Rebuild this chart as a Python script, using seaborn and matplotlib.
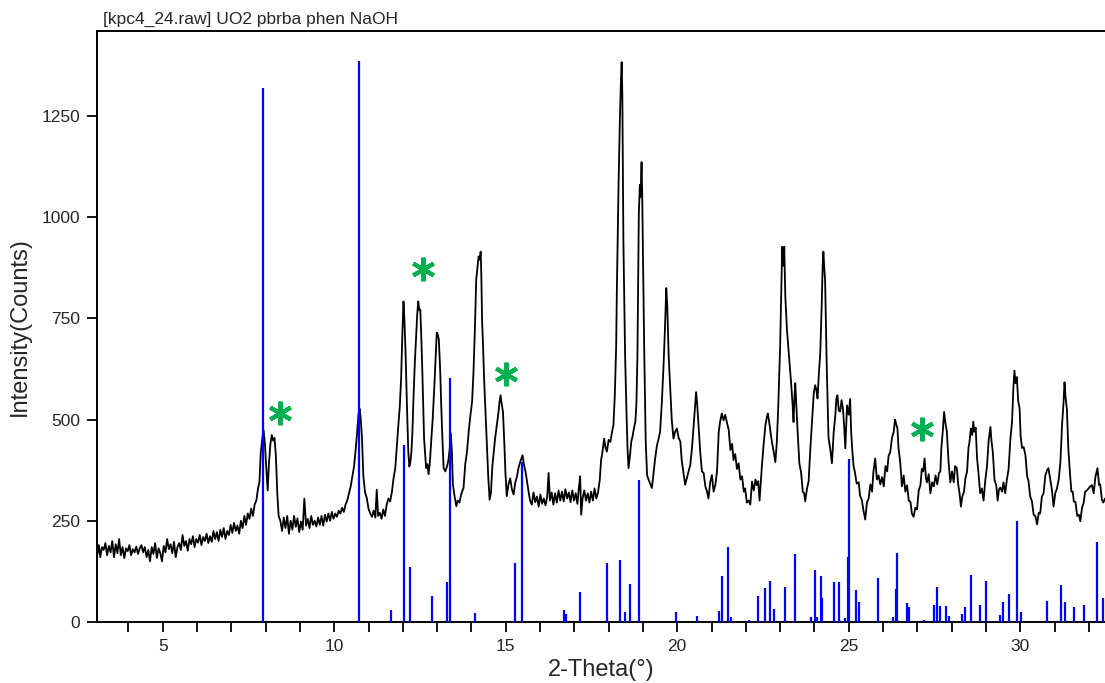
import numpy as np
import pandas as pd
import seaborn as sns
import matplotlib
matplotlib.use("Agg")
import matplotlib.pyplot as plt

scan = [
    (3.05, 195), (3.10, 168), (3.14, 190), (3.18, 160), (3.23, 185), (3.28, 178), (3.33, 195), (3.38, 165),
    (3.43, 188), (3.48, 172), (3.53, 200), (3.58, 160), (3.63, 192), (3.68, 170), (3.73, 205), (3.78, 165),
    (3.83, 185), (3.88, 158), (3.93, 182), (3.98, 175), (4.03, 190), (4.08, 165), (4.13, 180), (4.18, 172),
    (4.23, 186), (4.28, 168), (4.33, 182), (4.38, 190), (4.43, 172), (4.48, 185), (4.53, 160), (4.58, 178),
    (4.63, 150), (4.68, 185), (4.73, 168), (4.78, 195), (4.83, 158), (4.88, 182), (4.93, 170), (4.98, 150),
    (5.03, 188), (5.08, 172), (5.13, 205), (5.18, 180), (5.23, 192), (5.28, 170), (5.33, 198), (5.38, 160),
    (5.43, 185), (5.48, 195), (5.53, 178), (5.58, 215), (5.63, 188), (5.68, 200), (5.73, 176), (5.78, 205),
    (5.83, 192), (5.88, 212), (5.93, 185), (5.98, 205), (6.03, 196), (6.08, 215), (6.13, 190), (6.18, 210),
    (6.23, 200), (6.28, 218), (6.33, 195), (6.38, 212), (6.43, 198), (6.48, 225), (6.53, 205), (6.58, 222),
    (6.63, 200), (6.68, 228), (6.73, 210), (6.78, 232), (6.83, 205), (6.88, 225), (6.93, 215), (6.98, 240),
    (7.03, 220), (7.08, 245), (7.13, 225), (7.18, 238), (7.23, 218), (7.28, 250), (7.33, 232), (7.38, 262),
    (7.43, 240), (7.48, 268), (7.53, 255), (7.58, 280), (7.63, 262), (7.68, 290), (7.73, 300), (7.78, 330),
    (7.82, 345), (7.86, 420), (7.90, 450), (7.94, 474), (7.98, 440), (8.02, 380), (8.06, 325), (8.10, 395),
    (8.14, 440), (8.18, 462), (8.22, 448), (8.26, 455), (8.30, 410), (8.34, 320), (8.38, 262), (8.43, 250),
    (8.48, 225), (8.53, 258), (8.58, 232), (8.63, 262), (8.68, 218), (8.73, 250), (8.78, 228), (8.83, 262),
    (8.88, 235), (8.93, 256), (8.98, 222), (9.03, 248), (9.08, 228), (9.13, 305), (9.18, 238), (9.23, 255),
    (9.28, 232), (9.33, 262), (9.38, 240), (9.43, 250), (9.48, 236), (9.53, 258), (9.58, 240), (9.63, 262),
    (9.68, 238), (9.73, 265), (9.78, 248), (9.83, 268), (9.88, 250), (9.93, 272), (9.98, 255), (10.03, 268),
    (10.08, 260), (10.13, 275), (10.18, 268), (10.23, 282), (10.28, 272), (10.33, 290), (10.38, 300), (10.43, 318),
    (10.48, 335), (10.53, 360), (10.58, 385), (10.63, 430), (10.67, 470), (10.71, 515), (10.74, 527), (10.77, 505),
    (10.81, 455), (10.85, 360), (10.90, 320), (10.95, 306), (11.00, 280), (11.05, 268), (11.10, 260), (11.15, 275),
    (11.20, 258), (11.24, 327), (11.28, 262), (11.33, 270), (11.38, 255), (11.43, 278), (11.48, 262), (11.53, 290),
    (11.58, 305), (11.63, 298), (11.68, 320), (11.73, 355), (11.78, 380), (11.83, 440), (11.87, 486), (11.91, 530),
    (11.95, 600), (11.99, 720), (12.02, 792), (12.05, 740), (12.08, 666), (12.12, 535), (12.16, 420), (12.19, 384),
    (12.22, 395), (12.25, 420), (12.28, 470), (12.31, 551), (12.35, 640), (12.39, 707), (12.42, 760), (12.45, 792),
    (12.48, 770), (12.51, 772), (12.54, 700), (12.57, 617), (12.62, 453), (12.68, 380), (12.72, 390), (12.75, 365),
    (12.79, 395), (12.82, 437), (12.87, 500), (12.92, 584), (12.96, 660), (12.99, 715), (13.02, 710), (13.05, 698),
    (13.09, 620), (13.12, 535), (13.16, 440), (13.19, 380), (13.24, 372), (13.29, 385), (13.33, 400), (13.37, 430),
    (13.40, 466), (13.43, 420), (13.46, 339), (13.51, 310), (13.56, 286), (13.60, 300), (13.65, 295), (13.70, 315),
    (13.74, 325), (13.77, 331), (13.82, 390), (13.87, 420), (13.92, 470), (13.97, 510), (14.02, 545), (14.06, 617),
    (14.10, 720), (14.14, 846), (14.18, 880), (14.21, 903), (14.24, 895), (14.27, 915), (14.29, 850), (14.31, 748),
    (14.34, 680), (14.37, 600), (14.41, 520), (14.45, 437), (14.49, 360), (14.53, 302), (14.57, 320), (14.61, 385),
    (14.65, 420), (14.69, 453), (14.74, 485), (14.79, 519), (14.82, 545), (14.85, 560), (14.88, 540), (14.92, 519),
    (14.96, 440), (14.99, 372), (15.03, 311), (15.08, 340), (15.13, 355), (15.18, 328), (15.23, 315), (15.28, 345),
    (15.33, 360), (15.37, 380), (15.42, 395), (15.46, 405), (15.49, 412), (15.53, 390), (15.58, 370), (15.62, 347),
    (15.67, 320), (15.71, 300), (15.76, 290), (15.81, 320), (15.86, 296), (15.91, 310), (15.96, 285), (16.01, 315),
    (16.06, 292), (16.11, 305), (16.16, 288), (16.21, 310), (16.25, 368), (16.29, 300), (16.34, 320), (16.39, 290),
    (16.44, 318), (16.49, 295), (16.54, 325), (16.59, 300), (16.64, 322), (16.69, 298), (16.74, 328), (16.79, 305),
    (16.84, 320), (16.89, 296), (16.94, 325), (16.99, 300), (17.04, 318), (17.09, 292), (17.13, 330), (17.17, 360),
    (17.20, 265), (17.24, 305), (17.29, 325), (17.34, 300), (17.39, 318), (17.44, 295), (17.49, 322), (17.54, 300),
    (17.59, 330), (17.64, 305), (17.69, 320), (17.74, 350), (17.78, 400), (17.82, 420), (17.87, 453), (17.91, 430),
    (17.95, 421), (18.00, 450), (18.05, 445), (18.10, 470), (18.14, 486), (18.18, 560), (18.22, 682), (18.24, 821),
    (18.29, 1083), (18.33, 1250), (18.36, 1340), (18.38, 1383), (18.40, 1300), (18.43, 944), (18.46, 780), (18.48, 658),
    (18.52, 520), (18.55, 430), (18.58, 380), (18.62, 410), (18.66, 445), (18.70, 460), (18.74, 480), (18.78, 495),
    (18.81, 540), (18.84, 658), (18.88, 1009), (18.91, 1080), (18.93, 1050), (18.96, 1136), (18.98, 1050), (19.00, 911),
    (19.04, 658), (19.08, 450), (19.12, 363), (19.17, 350), (19.22, 340), (19.26, 331), (19.30, 360), (19.35, 400),
    (19.41, 437), (19.45, 450), (19.50, 470), (19.55, 540), (19.60, 633), (19.64, 720), (19.68, 825), (19.71, 780),
    (19.75, 658), (19.80, 568), (19.84, 500), (19.89, 453), (19.94, 470), (19.99, 478), (20.04, 455), (20.09, 446),
    (20.13, 400), (20.18, 370), (20.23, 339), (20.28, 355), (20.33, 370), (20.38, 388), (20.43, 430), (20.48, 486),
    (20.52, 530), (20.55, 568), (20.58, 540), (20.62, 486), (20.67, 420), (20.72, 372), (20.77, 368), (20.82, 335),
    (20.87, 322), (20.91, 305), (20.96, 345), (21.01, 363), (21.06, 322), (21.11, 338), (21.16, 372), (21.21, 470),
    (21.25, 495), (21.30, 515), (21.35, 498), (21.40, 512), (21.45, 492), (21.50, 475), (21.55, 425), (21.60, 440),
    (21.64, 400), (21.69, 415), (21.74, 378), (21.79, 392), (21.84, 352), (21.89, 360), (21.94, 322), (21.98, 330),
    (22.03, 295), (22.08, 300), (22.13, 290), (22.18, 347), (22.23, 325), (22.28, 352), (22.32, 338), (22.36, 348),
    (22.40, 300), (22.44, 350), (22.47, 388), (22.52, 440), (22.57, 486), (22.61, 505), (22.64, 515), (22.68, 495),
    (22.73, 462), (22.77, 440), (22.81, 421), (22.86, 395), (22.90, 440), (22.94, 520), (22.97, 600), (23.00, 682),
    (23.03, 800), (23.06, 927), (23.09, 880), (23.12, 927), (23.15, 805), (23.20, 720), (23.25, 666), (23.29, 620),
    (23.32, 590), (23.36, 540), (23.39, 494), (23.42, 560), (23.44, 590), (23.48, 520), (23.51, 470), (23.56, 392),
    (23.61, 370), (23.66, 322), (23.70, 318), (23.73, 298), (23.78, 328), (23.83, 348), (23.88, 428), (23.93, 495),
    (23.98, 565), (24.02, 585), (24.06, 572), (24.09, 552), (24.13, 615), (24.17, 666), (24.21, 780), (24.24, 880),
    (24.26, 915), (24.29, 870), (24.31, 845), (24.34, 720), (24.36, 625), (24.41, 455), (24.46, 428), (24.51, 392),
    (24.56, 468), (24.61, 512), (24.64, 552), (24.67, 560), (24.71, 522), (24.75, 520), (24.79, 548), (24.83, 528),
    (24.87, 478), (24.90, 429), (24.95, 535), (25.00, 512), (25.04, 551), (25.07, 470), (25.10, 428), (25.14, 385),
    (25.18, 370), (25.23, 342), (25.29, 345), (25.33, 312), (25.38, 302), (25.43, 275), (25.48, 253), (25.53, 295),
    (25.58, 305), (25.63, 340), (25.68, 322), (25.72, 372), (25.77, 404), (25.82, 352), (25.87, 362), (25.92, 340),
    (25.97, 358), (26.02, 335), (26.07, 385), (26.12, 372), (26.16, 410), (26.21, 420), (26.26, 455), (26.31, 470),
    (26.35, 500), (26.38, 490), (26.42, 478), (26.45, 430), (26.50, 395), (26.55, 335), (26.60, 362), (26.65, 322),
    (26.70, 338), (26.75, 300), (26.80, 296), (26.84, 268), (26.89, 260), (26.94, 282), (26.99, 278), (27.04, 325),
    (27.09, 338), (27.13, 378), (27.17, 372), (27.21, 404), (27.25, 355), (27.28, 345), (27.33, 365), (27.38, 318),
    (27.43, 345), (27.48, 335), (27.53, 362), (27.58, 340), (27.63, 368), (27.67, 372), (27.70, 430), (27.74, 470),
    (27.78, 519), (27.82, 490), (27.86, 470), (27.91, 395), (27.96, 345), (28.01, 372), (28.06, 345), (28.10, 385),
    (28.15, 380), (28.19, 340), (28.23, 318), (28.27, 285), (28.31, 310), (28.36, 322), (28.40, 355), (28.45, 372),
    (28.49, 430), (28.52, 445), (28.56, 478), (28.60, 462), (28.63, 495), (28.66, 470), (28.70, 480), (28.74, 405),
    (28.78, 370), (28.83, 318), (28.88, 330), (28.93, 300), (28.98, 350), (29.03, 385), (29.08, 450), (29.13, 482),
    (29.16, 448), (29.20, 420), (29.25, 350), (29.30, 338), (29.34, 300), (29.38, 328), (29.42, 332), (29.47, 322),
    (29.51, 345), (29.56, 318), (29.61, 352), (29.66, 378), (29.71, 450), (29.76, 495), (29.80, 580), (29.83, 621),
    (29.86, 590), (29.90, 605), (29.94, 545), (29.98, 528), (30.01, 460), (30.05, 430), (30.10, 432), (30.15, 412),
    (30.20, 360), (30.24, 348), (30.29, 310), (30.34, 298), (30.39, 265), (30.44, 262), (30.49, 241), (30.54, 270),
    (30.58, 268), (30.63, 310), (30.68, 318), (30.73, 362), (30.78, 375), (30.82, 380), (30.87, 355), (30.92, 328),
    (30.97, 285), (31.02, 318), (31.07, 330), (31.12, 352), (31.17, 395), (31.22, 490), (31.26, 540), (31.29, 592),
    (31.32, 555), (31.36, 525), (31.40, 430), (31.44, 378), (31.49, 322), (31.53, 322), (31.56, 298), (31.61, 296),
    (31.66, 262), (31.71, 265), (31.75, 249), (31.80, 282), (31.85, 295), (31.89, 322), (31.94, 325), (31.99, 330),
    (32.04, 335), (32.09, 338), (32.14, 318), (32.19, 358), (32.25, 380), (32.30, 338), (32.33, 340), (32.38, 302),
    (32.42, 295), (32.47, 305), (32.52, 292),
]

# reference pattern sticks
stick_pos = [7.93, 10.73, 11.66, 12.03, 12.22, 12.85, 13.29, 13.37, 14.10, 15.26, 15.46, 16.71, 16.76,
             17.16, 17.96, 18.33, 18.48, 18.63, 18.89, 19.95, 20.58, 21.23, 21.30, 21.48, 21.56,
             22.08, 22.34, 22.55, 22.69, 22.83, 23.13, 23.43, 23.90, 24.01, 24.07, 24.19, 24.22,
             24.57, 24.72, 24.89, 24.99, 25.01, 25.20, 25.30, 25.84, 26.29, 26.38, 26.40, 26.70,
             26.77, 27.19, 27.48, 27.57, 27.67, 27.84, 27.92, 28.30, 28.40, 28.56, 28.82, 29.01,
             29.42, 29.51, 29.67, 29.91, 30.03, 30.79, 31.19, 31.30, 31.56, 31.85, 32.25, 32.40]
stick_int = [1319, 1385, 29, 437, 136, 63, 100, 602, 22, 145, 395, 29, 20,
             73, 145, 153, 25, 94, 351, 25, 14, 28, 113, 185, 12,
             6, 64, 84, 102, 33, 86, 167, 12, 128, 12, 113, 60,
             98, 98, 10, 161, 403, 78, 49, 108, 12, 82, 170, 47,
             36, 6, 43, 86, 40, 40, 16, 20, 38, 117, 43, 102,
             18, 49, 69, 249, 24, 51, 92, 49, 36, 42, 198, 60]

# green asterisks marking impurity peaks
star_x = [8.41, 12.60, 15.01, 27.13]
star_y = [516, 872, 613, 478]

df = pd.DataFrame(scan, columns=["two_theta", "counts"])

sns.set_theme(style="ticks")
plt.rcParams["font.family"] = ["Liberation Sans", "DejaVu Sans"]

fig = plt.figure(figsize=(11.05, 6.83), dpi=100)
ax = fig.add_axes([97 / 1105, 1 - 622 / 683, 1 - 97 / 1105, (622 - 31) / 683])

sns.lineplot(data=df, x="two_theta", y="counts", ax=ax, color="black", lw=1.3,
             sort=False, estimator=None)
ax.vlines(stick_pos, 0, stick_int, colors="#0000ff", lw=1.6, zorder=3)
ax.plot(star_x, star_y, ls="none", marker=(6, 2, 0), ms=17, mew=3.0,
        color="#00b050", zorder=4)

ax.set_xlim(3.085, 32.47)
ax.set_ylim(0, 1460)
ax.set_xticks(np.arange(4, 33, 1), minor=True)
ax.set_xticks([5, 10, 15, 20, 25, 30])
ax.set_yticks([0, 250, 500, 750, 1000, 1250])
ax.tick_params(axis="both", which="both", direction="out", length=7, width=1.3,
               color="black", labelsize=12.5, pad=5)
ax.tick_params(axis="x", which="minor", length=7)

for side in ["left", "bottom", "top"]:
    ax.spines[side].set_color("black")
    ax.spines[side].set_linewidth(1.4)
ax.spines["right"].set_visible(False)

ax.set_xlabel("2-Theta(°)", fontsize=17, labelpad=4)
ax.set_ylabel("Intensity(Counts)", fontsize=17, labelpad=8)
fig.text(103 / 1105, 1 - 19 / 683, "[kpc4_24.raw] UO2 pbrba phen NaOH",
         fontsize=12.5, va="center", ha="left")

fig.savefig("out.png", dpi=100)
